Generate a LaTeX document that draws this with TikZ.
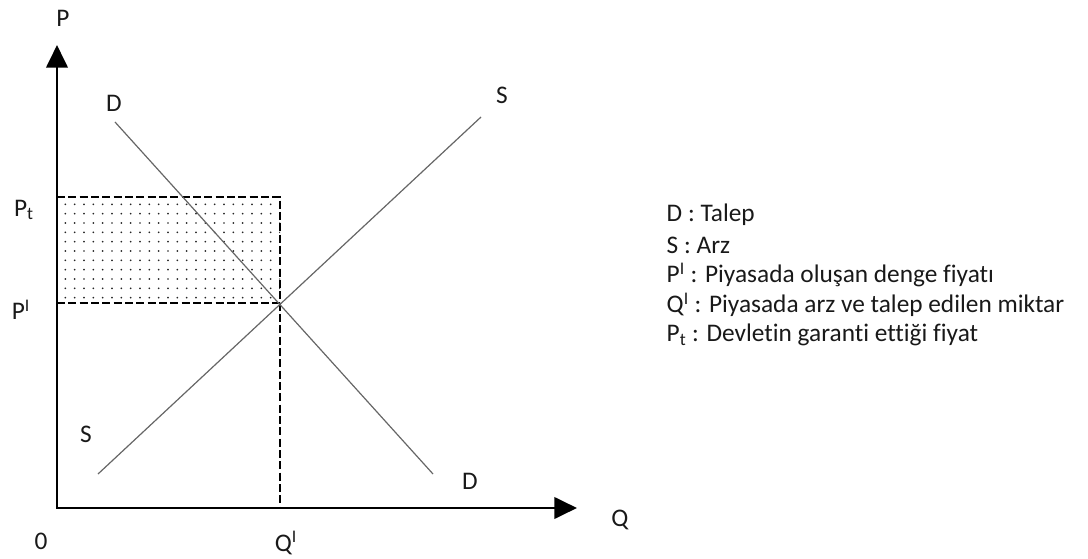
\documentclass[tikz,border=0pt]{standalone}
\usepackage{fontspec}
\setmainfont{Carlito}[Ligatures=NoCommon]
\usetikzlibrary{arrows.meta,patterns.meta}

\begin{document}
\begin{tikzpicture}[x=0.75pt,y=-0.75pt,>={Triangle[length=17pt,width=16pt]},
  axis/.style={line width=2.2pt},
  curve/.style={draw=black!60,line width=0.9pt},
  guide/.style={line width=1.1pt,dash pattern=on 6pt off 2.5pt},
  lbl/.style={font=\fontsize{19}{22}\selectfont,text=black!90},
  key/.style={lbl,anchor=west}]
  \useasboundingbox (0,0) rectangle (1088,559);
  \coordinate (o) at (57,508);
  \coordinate (ytop) at (57,45);
  \coordinate (xend) at (577,508);
  \coordinate (pt) at (57,197);
  \coordinate (pe) at (57,303);
  \coordinate (qe) at (280,508);
  \coordinate (eq) at (280,303);
  \coordinate (corner) at (280,197);
  \coordinate (d1) at (115,122);
  \coordinate (d2) at (433,474);
  \coordinate (s1) at (98,474);
  \coordinate (s2) at (481,117);
  % price floor area
  \fill[pattern={Dots[distance=7pt,radius=0.7pt]},pattern color=black!85] (pe) rectangle (corner);
  \draw[guide] (pt) -- (corner) -- (eq) -- (qe);
  \draw[guide] (pe) -- (eq);
  \draw[curve] (d1) -- (d2);
  \draw[curve] (s1) -- (s2);
  \draw[axis,<->] (ytop) -- (o) -- (xend);
  % labels
  \node[lbl] (plabel) at (63,18) {P};
  \node[lbl] (qlabel) at (620,520) {Q};
  \node[lbl] (zero) at (41,541) {0};
  \node[lbl] (qelabel) at (286,543) {Q\textsuperscript{I}};
  \node[lbl] (ptlabel) at (24,210) {P\textsubscript{t}};
  \node[lbl] (pelabel) at (21,310) {P\textsuperscript{I}};
  \node[lbl] (dtop) at (114,103) {D};
  \node[lbl] (dbot) at (470,481) {D};
  \node[lbl] (stop) at (502,95) {S};
  \node[lbl] (sbot) at (86,434) {S};
  % legend
  \node[key] (keyd) at (662,215) {D : Talep};
  \node[key] (keys) at (662,245) {S : Arz};
  \node[key] (keyp) at (662,275) {P\textsuperscript{I} : Piyasada oluşan denge fiyatı};
  \node[key] (keyq) at (662,305) {Q\textsuperscript{I} : Piyasada arz ve talep edilen miktar};
  \node[key] (keypt) at (662,335) {P\textsubscript{t} : Devletin garanti ettiği fiyat};
\end{tikzpicture}
\end{document}
